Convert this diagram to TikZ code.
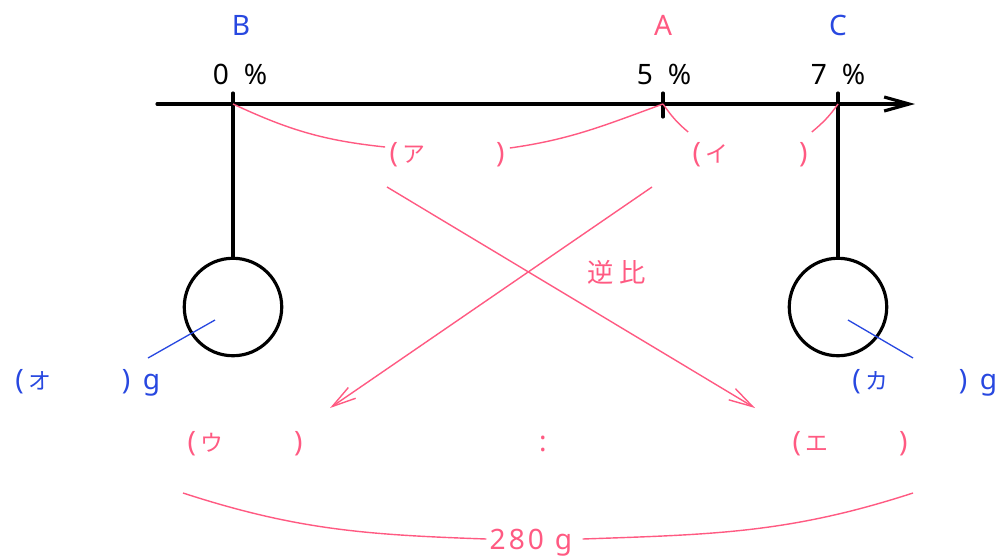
\documentclass[tikz,border=0pt]{standalone}
\usepackage{fontspec}
\setmainfont{Noto Sans}
\newfontfamily\jp{Noto Sans CJK JP}
\usetikzlibrary{arrows.meta, calc}
\definecolor{mixpink}{HTML}{FF5A82}
\definecolor{mixblue}{HTML}{2848E0}
\newcommand{\blank}[1]{\makebox[23mm][s]{(\hspace{1mm}{\jp\fontsize{13}{15}\selectfont #1}\hfill)}}
\tikzset{
  lbl/.style={font=\fontsize{16}{19}\selectfont, inner sep=0pt},
  blankbox/.style={lbl, text=mixpink},
  blackline/.style={line width=1.8pt, line cap=round, black},
  axisline/.style={blackline, -{Straight Barb[length=5mm, width=2.8mm]}},
  weight/.style={circle, draw=black, line width=1.8pt, minimum size=1.95cm, inner sep=0pt},
  pinkline/.style={line width=0.8pt, mixpink},
  crossarr/.style={pinkline, -{Straight Barb[length=4.8mm, width=2.6mm]}},
  blueline/.style={line width=0.75pt, mixblue},
}
\begin{document}
\begin{tikzpicture}[x=0.02cm, y=-0.02cm]
  \useasboundingbox (0,0) rectangle (1001,559);
  % axis with the three concentrations
  \coordinate (ax0) at (157,104);
  \coordinate (ax1) at (915,104);
  \coordinate (b) at (233,104);
  \coordinate (a) at (663,104);
  \coordinate (c) at (838,104);
  \draw[axisline] (ax0) -- (ax1);
  \node[weight] (wB) at (233,307) {};
  \node[weight] (wC) at (838,307) {};
  \draw[blackline] ([yshift=2.2mm]b) -- (wB.north);
  \draw[blackline] ([yshift=2.2mm]a) -- ([yshift=-2.6mm]a);
  \draw[blackline] ([yshift=2.2mm]c) -- (wC.north);
  \node[lbl, text=mixblue] (nB) at (241,25) {B};
  \node[lbl, text=mixpink] (nA) at (663,25) {A};
  \node[lbl, text=mixblue] (nC) at (838,25) {C};
  \node[lbl] (pB) at (240,74) {0\hspace{3mm}\%};
  \node[lbl] (pA) at (664,74) {5\hspace{3mm}\%};
  \node[lbl] (pC) at (838,74) {7\hspace{3mm}\%};
  % differences along the axis
  \node[blankbox] (pa) at (447,155) {\blank{ア}};
  \node[blankbox] (pi) at (750,155) {\blank{イ}};
  \draw[pinkline] (b) to[out=-25, in=174] ($(pa.west)+(-4,-8)$);
  \draw[pinkline] ($(pa.east)+(5,-7)$) to[out=8, in=200] (a);
  \draw[pinkline] (a) to[out=-55, in=140] ($(pi.west)+(-4,-23)$);
  \draw[pinkline] ($(pi.east)+(4,-23)$) to[out=40, in=235] (c);
  % inverse ratio
  \coordinate (x1s) at (387,187);
  \coordinate (x1e) at (755,408);
  \coordinate (x2s) at (652,187);
  \coordinate (x2e) at (330,408);
  \draw[crossarr] (x1s) -- (x1e);
  \draw[crossarr] (x2s) -- (x2e);
  \node[lbl, text=mixpink, font=\jp\fontsize{15}{18}\selectfont] (gyaku) at (617,272) {逆\kern1.2mm 比};
  % weights
  \node[lbl, text=mixblue, anchor=west] (po) at (15,383) {\blank{オ}\hspace{2.5mm}g};
  \node[lbl, text=mixblue, anchor=west] (pk) at (852,383) {\blank{カ}\hspace{2.5mm}g};
  \coordinate (bo) at (148,358);
  \coordinate (bk) at (913,358);
  \draw[blueline] ($(wB)+(-18,13)$) -- (bo);
  \draw[blueline] ($(wC)+(10,13)$) -- (bk);
  % ratio and total
  \node[blankbox] (pu) at (245,444) {\blank{ウ}};
  \node[blankbox] (pe) at (850,444) {\blank{エ}};
  \node[lbl, text=mixpink] (colon) at (543,444) {:};
  \node[lbl, text=mixpink] (tot) at (531,543) {2\kern0.6mm 8\kern0.6mm 0\hspace{2.2mm}g};
  \coordinate (bl) at (183,493);
  \coordinate (br) at (913,493);
  \draw[pinkline] (bl) to[out=-18, in=178] ($(tot.west)+(-3,-4)$);
  \draw[pinkline] ($(tot.east)+(10,-4)$) to[out=2, in=198] (br);
\end{tikzpicture}
\end{document}
